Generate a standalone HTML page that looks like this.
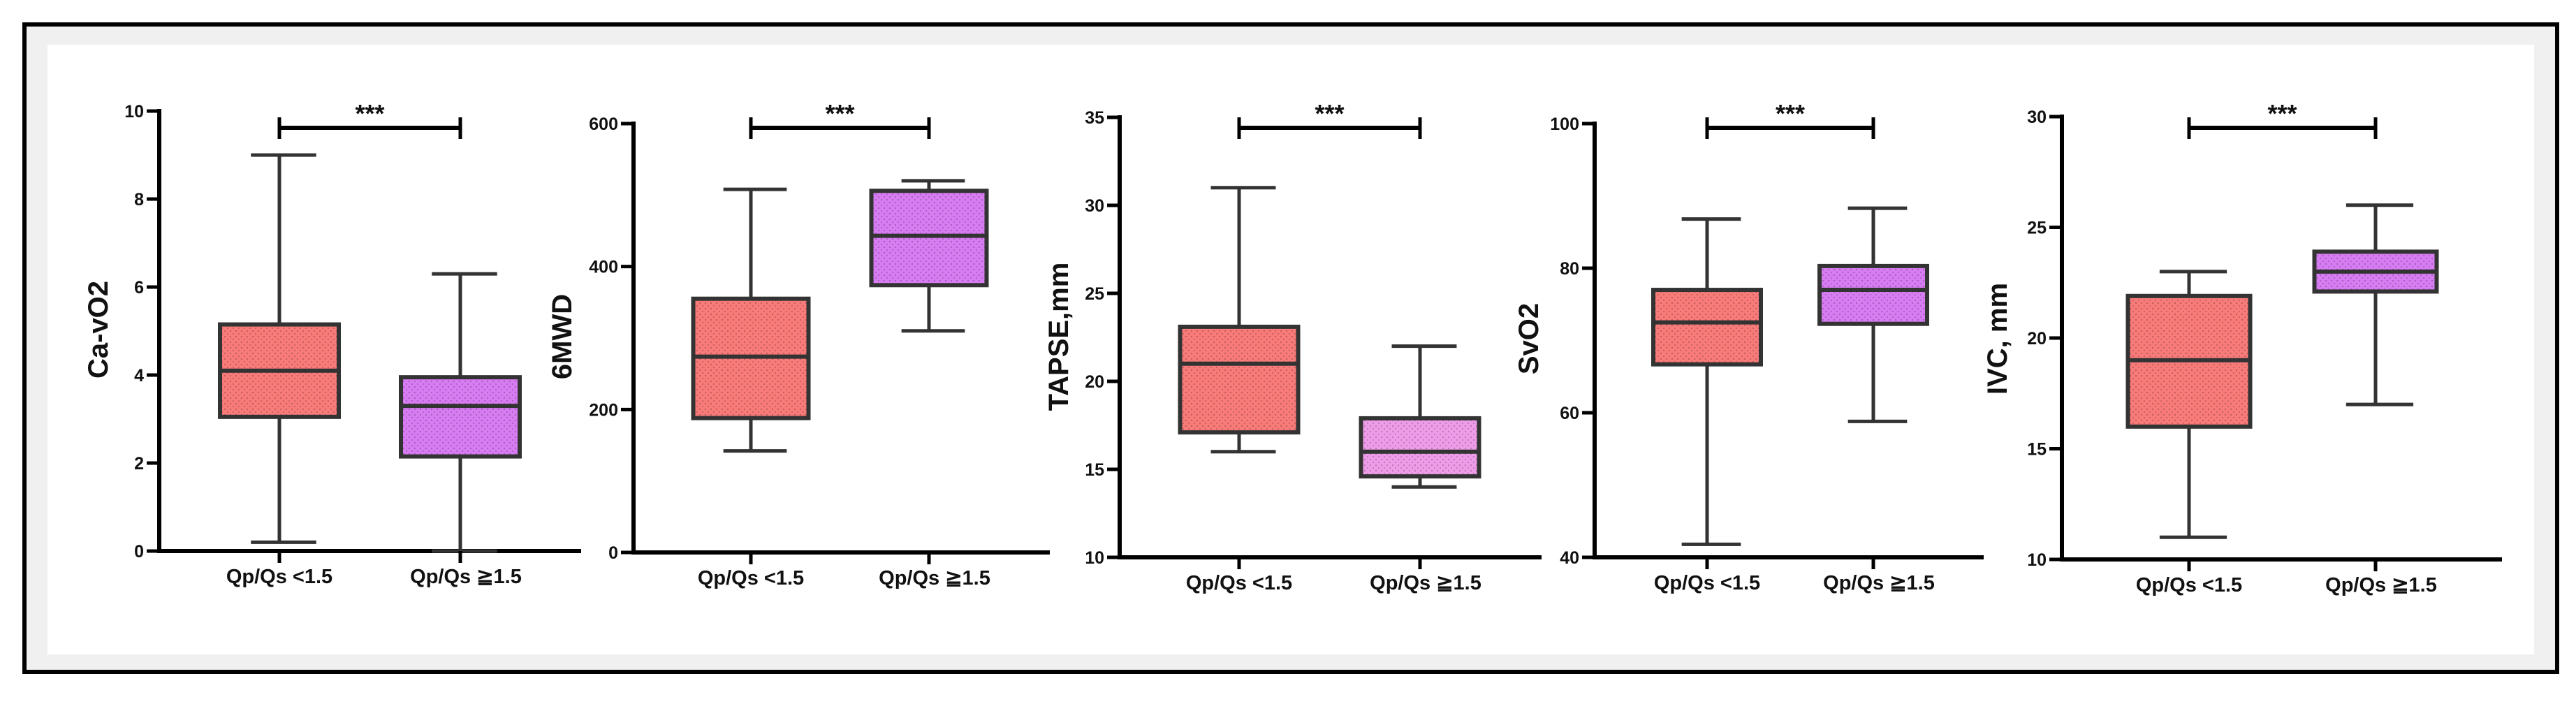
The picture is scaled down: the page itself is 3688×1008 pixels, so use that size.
<!DOCTYPE html>
<html><head><meta charset="utf-8"><style>
html,body{margin:0;padding:0;background:#fff;}
svg{display:block;}
text{font-family:"Liberation Sans",Arial,sans-serif;font-weight:bold;fill:#111;}
</style></head><body>
<svg id="fig" width="3688" height="1008" viewBox="0 0 3688 1008" xmlns="http://www.w3.org/2000/svg">
<defs>
<pattern id="dots" width="8" height="8" patternUnits="userSpaceOnUse"><circle cx="2" cy="2" r="1.1" fill="#000" opacity="0.25"/><circle cx="6" cy="6" r="1.1" fill="#000" opacity="0.2"/></pattern>
</defs>
<rect x="35" y="35" width="3626" height="927" fill="#f0f0f0" stroke="#000" stroke-width="6"/>
<rect x="68" y="64" width="3560" height="873" fill="#fff"/>
<g id="charts"></g>
</svg>
<script>
// ---- data (min, Q1, median, Q3, max) ----
const categories = ["Qp/Qs <1.5", "Qp/Qs \u22671.5"];
const caLow  = [0.2, 3.05, 4.1, 5.15, 9.0];
const caHigh = [0.0, 2.15, 3.3, 3.95, 6.3];
const mwdLow  = [142, 188, 274, 355, 508];
const mwdHigh = [310, 374, 443, 506, 520];
const tapseLow  = [16, 17.1, 21, 23.1, 31];
const tapseHigh = [14, 14.6, 16, 17.9, 22];
const svoLow  = [41.8, 66.7, 72.5, 77, 86.8];
const svoHigh = [58.8, 72.3, 77, 80.3, 88.3];
const ivcLow  = [11, 16, 19, 21.9, 23];
const ivcHigh = [17, 22.1, 23, 23.9, 26];
const caTicks = [0,2,4,6,8,10];
const mwdTicks = [0,200,400,600];
const tapseTicks = [10,15,20,25,30,35];
const svoTicks = [40,60,80,100];
const ivcTicks = [10,15,20,25,30];
const titles = ["Ca-vO2","6MWD","TAPSE,mm","SvO2","IVC, mm"];
const sig = ["***","***","***","***","***"];

// ---- layout (not data) ----
const charts = [
 {key:"ca-vo2", low:caLow, high:caHigh, ticks:caTicks, ax:228, top:159, bot:789, c1:400, c2:659, end:832, bw:170, tx:140, ty:472, fill2:"#d77cf2"},
 {key:"6mwd", low:mwdLow, high:mwdHigh, ticks:mwdTicks, ax:907, top:177, bot:791, c1:1075, c2:1330, end:1503, bw:165, tx:804, ty:482, fill2:"#d77cf2"},
 {key:"tapse", low:tapseLow, high:tapseHigh, ticks:tapseTicks, ax:1603, top:168, bot:798, c1:1774, c2:2033, end:2207, bw:169, tx:1515, ty:482, fill2:"#ee9ce8"},
 {key:"svo2", low:svoLow, high:svoHigh, ticks:svoTicks, ax:2283, top:177, bot:798, c1:2444, c2:2682, end:2840, bw:154, tx:2188, ty:485, fill2:"#d77cf2"},
 {key:"ivc", low:ivcLow, high:ivcHigh, ticks:ivcTicks, ax:2952, top:167, bot:801, c1:3134, c2:3401, end:3582, bw:175, tx:2859, ty:485, fill2:"#d77cf2"}
];
const NS="http://www.w3.org/2000/svg";
const root=document.getElementById("charts");
function mk(tag,attrs,parent){const e=document.createElementNS(NS,tag);for(const k in attrs)e.setAttribute(k,attrs[k]);parent.appendChild(e);return e;}

charts.forEach((c,i)=>{
  const g=mk("g",{},root);
  
  
  const tmin=c.ticks[0], tmax=c.ticks[c.ticks.length-1];
  const y=v=>c.bot-(v-tmin)/(tmax-tmin)*(c.bot-c.top);
  // axes
  const ya=mk("line",{x1:c.ax,y1:c.top-3,x2:c.ax,y2:c.bot+3,stroke:"#000","stroke-width":6},g);
  
  
  const xa=mk("line",{x1:c.ax-3,y1:c.bot,x2:c.end,y2:c.bot,stroke:"#000","stroke-width":6},g);
  
  
  c.ticks.forEach(t=>{
    mk("line",{x1:c.ax-18,y1:y(t),x2:c.ax,y2:y(t),stroke:"#000","stroke-width":5},g);
    const tl=mk("text",{x:c.ax-22,y:y(t)+9,"text-anchor":"end","font-size":25},g);
    tl.textContent=t;
    
    
  });
  // y title
  const tt=mk("text",{x:c.tx,y:c.ty,"text-anchor":"middle","font-size":40,transform:`rotate(-90 ${c.tx} ${c.ty})`,dy:14},g);
  tt.textContent=titles[i];
  
  
  // boxes
  [[c.low,c.c1,"#f87b79"],[c.high,c.c2,c.fill2]].forEach((b,j)=>{
    const s=b[0], cx=b[1], fill=b[2];
    const bg=mk("g",{},g);
    
    
    const wc=c.bw*0.55;
    mk("line",{x1:cx,y1:y(s[4]),x2:cx,y2:y(s[3]),stroke:"#333","stroke-width":5},bg);
    mk("line",{x1:cx,y1:y(s[1]),x2:cx,y2:y(s[0]),stroke:"#333","stroke-width":5},bg);
    mk("line",{x1:cx-wc/2+6,y1:y(s[4]),x2:cx+wc/2+6,y2:y(s[4]),stroke:"#333","stroke-width":5},bg);
    mk("line",{x1:cx-wc/2+6,y1:y(s[0]),x2:cx+wc/2+6,y2:y(s[0]),stroke:"#333","stroke-width":5},bg);
    mk("rect",{x:cx-c.bw/2,y:y(s[3]),width:c.bw,height:y(s[1])-y(s[3]),fill:fill},bg);
    mk("rect",{x:cx-c.bw/2,y:y(s[3]),width:c.bw,height:y(s[1])-y(s[3]),fill:"url(#dots)",stroke:"#333","stroke-width":6},bg);
    mk("line",{x1:cx-c.bw/2,y1:y(s[2]),x2:cx+c.bw/2,y2:y(s[2]),stroke:"#333","stroke-width":6},bg);
    // x tick & label
    mk("line",{x1:cx,y1:c.bot,x2:cx,y2:c.bot+17,stroke:"#000","stroke-width":5},g);
    const xl=mk("text",{x:cx+(j?8:0),y:c.bot+46,"text-anchor":"middle","font-size":29},g);
    xl.textContent=categories[j];
    
    
  });
  // significance bracket
  const br=mk("g",{},g);
  
  
  mk("line",{x1:c.c1,y1:183,x2:c.c2,y2:183,stroke:"#000","stroke-width":6},br);
  mk("line",{x1:c.c1,y1:168,x2:c.c1,y2:199,stroke:"#000","stroke-width":5},br);
  mk("line",{x1:c.c2,y1:168,x2:c.c2,y2:199,stroke:"#000","stroke-width":5},br);
  const st=mk("text",{x:(c.c1+c.c2)/2,y:175,"text-anchor":"middle","font-size":36},br);
  st.textContent=sig[i];
  
  
});
</script>
</body></html>
